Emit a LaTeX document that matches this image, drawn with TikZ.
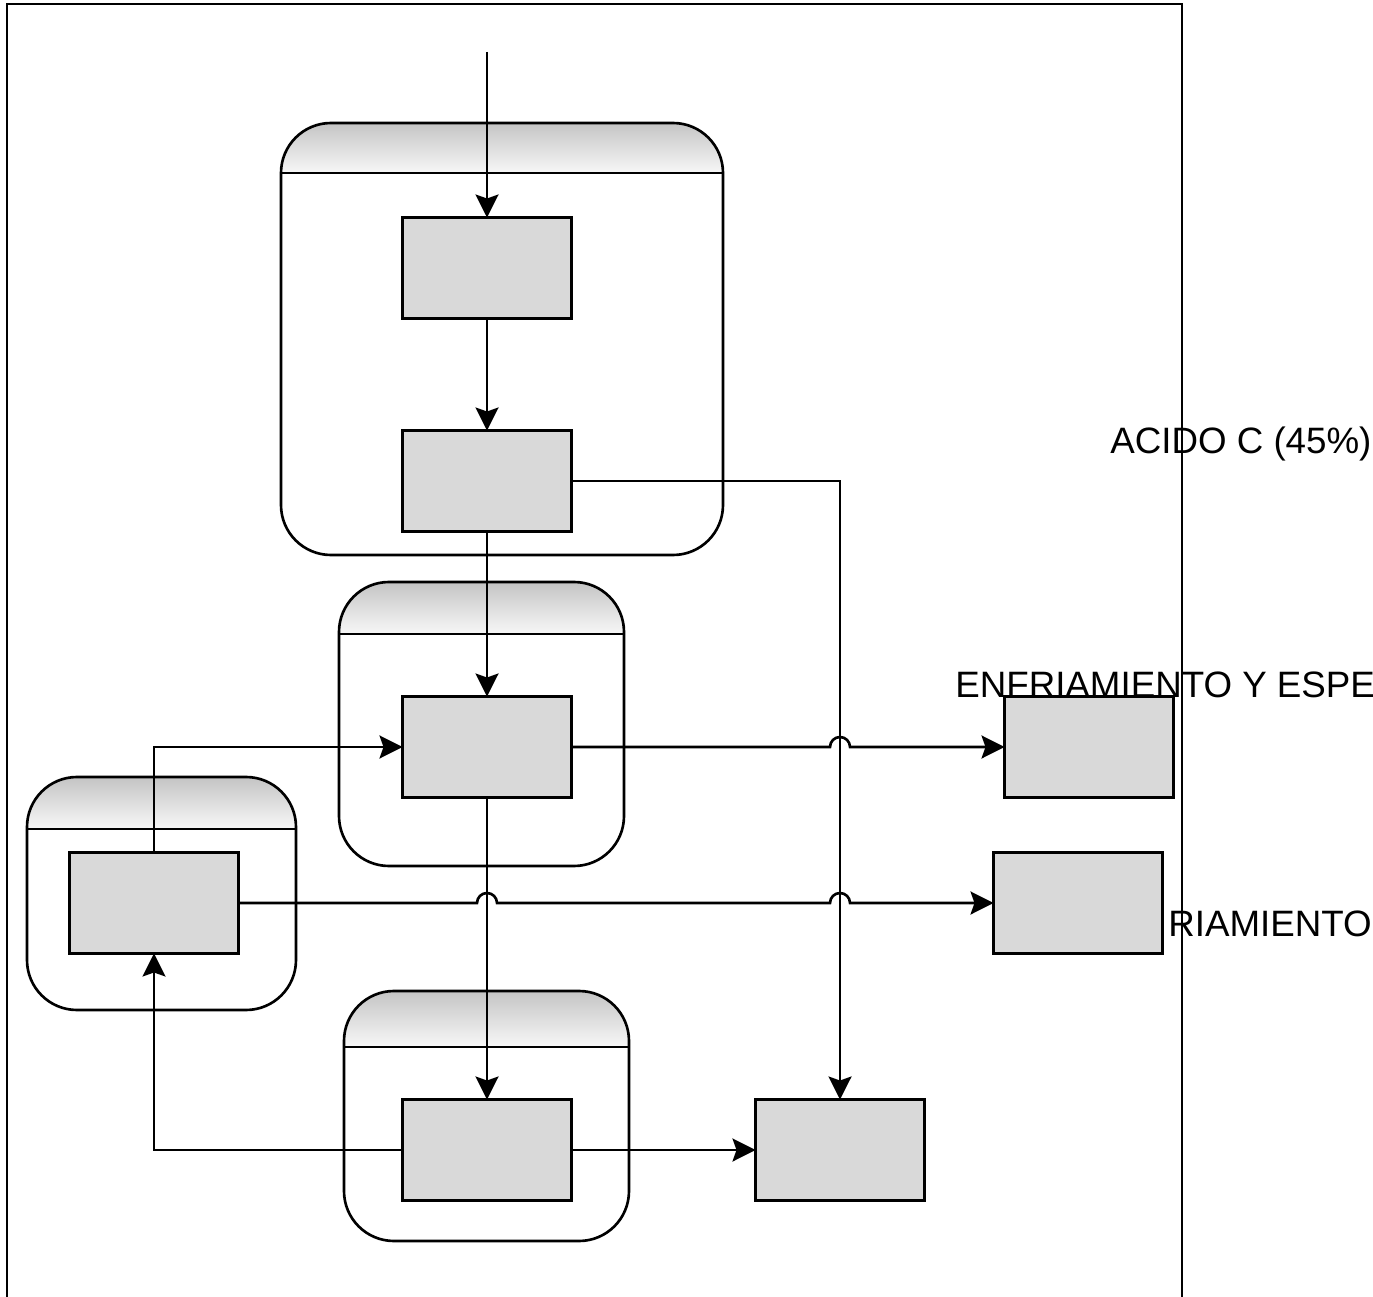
\documentclass[tikz,border=0pt]{standalone}
\usepackage{fontspec}
\setmainfont{Liberation Sans}
\usepackage{tikz}
\usetikzlibrary{arrows.meta, positioning, calc}

\tikzset{
  proceso/.style={draw, fill=black!15, minimum width=3.38cm,
    minimum height=2.02cm, inner sep=0pt, outer sep=0pt},
  flujo/.style={-{Stealth[length=0.46cm,width=0.46cm,inset=0.08cm]}},
  etiqueta/.style={inner sep=0pt, anchor=base west, font=\fontsize{20.9}{24}\selectfont}
}

\begin{document}
\begin{tikzpicture}[x=0.02cm,y=-0.02cm,line width=1.5pt]
  \useasboundingbox (0,0) rectangle (1373,1297);
  % Texte
  \node[etiqueta] (acido) at (1109,454) {ACIDO C (45\%)};
  \node[etiqueta] (enfria) at (954,697) {ENFRIAMIENTO Y ESPE};
  \node[etiqueta] (riam) at (1167,936) {RIAMIENTO};
  % Behaelter
  \foreach \xa/\ya/\xb/\yb/\yh in {281/123/723/555/173, 339/582/624/866/634,
      344/991/629/1241/1047, 27/777/296/1010/829}{
    \begin{scope}
      \clip[rounded corners=1cm] (\xa,\ya) rectangle (\xb,\yb);
      \shade[top color=black!23, bottom color=black!3] (\xa,\ya) rectangle (\xb,\yh);
    \end{scope}
    \draw[rounded corners=1cm] (\xa,\ya) rectangle (\xb,\yb);
    \draw (\xa,\yh) -- (\xb,\yh);
  }
  % Schritte
  \node[proceso] (paso1) at (487,268) {};
  \node[proceso] (paso2) at (487,481) {};
  \node[proceso] (paso3) at (487,747) {};
  \node[proceso] (paso4) at (487,1150) {};
  \node[proceso] (paso5) at (154,903) {};
  \node[proceso] (destA) at (1089,747) {};
  \node[proceso] (destB) at (1078,903) {};
  \node[proceso] (destC) at (840,1150) {};
  % Fluss
  \coordinate (entrada) at (487,52);
  \draw[flujo] (entrada) -- (paso1);
  \draw[flujo] (paso1) -- (paso2);
  \draw[flujo] (paso2.east) -| (destC.north);
  \draw[flujo] (paso2) -- (paso3);
  \draw[flujo] (paso3.east) -- ($(destC.north |- paso3.east)+(-10,0)$)
    arc[start angle=180, end angle=0, radius=0.2cm] -- (destA.west);
  \draw[flujo] (paso3) -- (paso4);
  \draw[flujo] (paso4) -- (destC);
  \draw[flujo] (paso4.west) -| (paso5.south);
  \draw[flujo] (paso5.north) |- (paso3.west);
  \draw[flujo] (paso5.east) -- ($(paso4.north |- paso5.east)+(-10,0)$)
    arc[start angle=180, end angle=0, radius=0.2cm]
    -- ($(destC.north |- paso5.east)+(-10,0)$)
    arc[start angle=180, end angle=0, radius=0.2cm] -- (destB.west);
  % Rahmen
  \draw[line width=1.6pt] (7,1297) -- (7,4) -- (1182,4) -- (1182,1297);
\end{tikzpicture}
\end{document}
